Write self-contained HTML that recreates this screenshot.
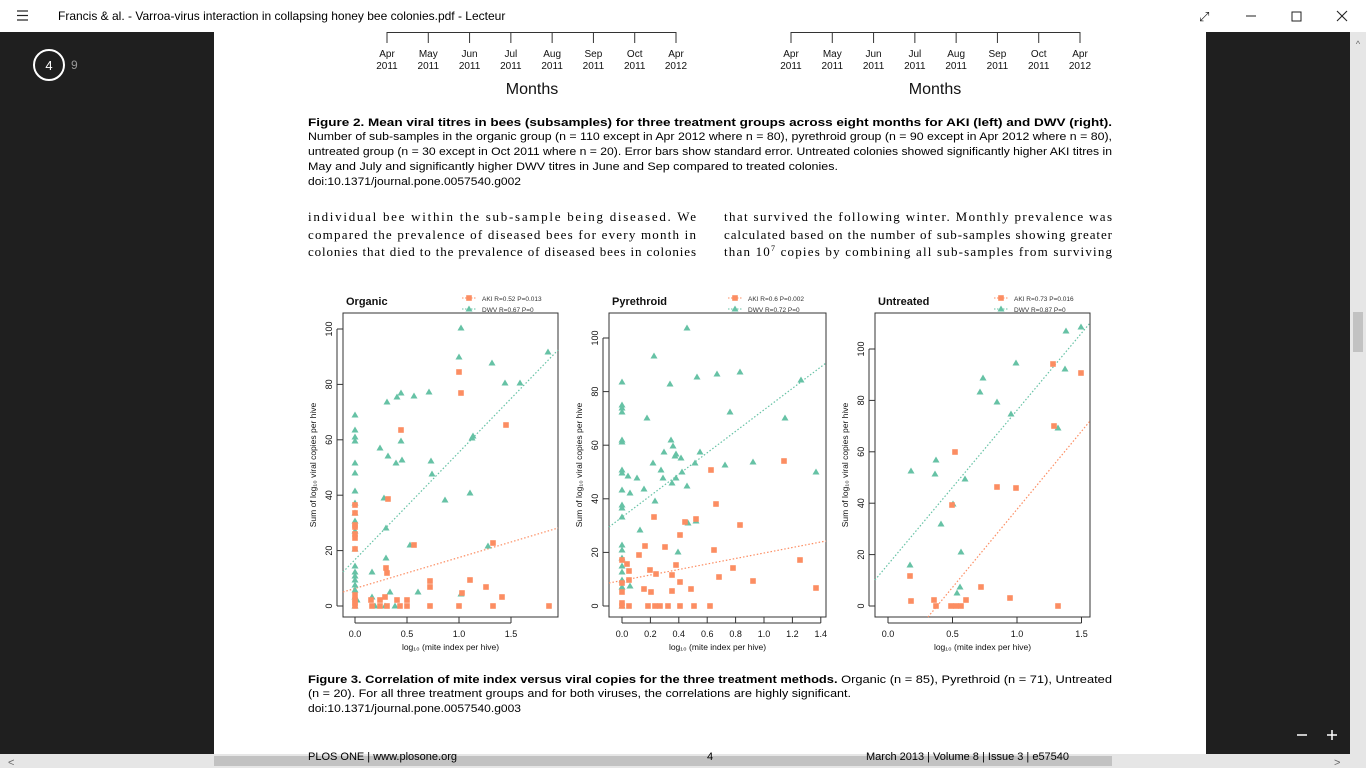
<!DOCTYPE html>
<html><head><meta charset="utf-8"><style>
html,body{margin:0;padding:0;width:1366px;height:768px;overflow:hidden;background:#fff}
svg{display:block}
text{font-family:"Liberation Sans",sans-serif}
.serif{font-family:"Liberation Serif",serif}
</style></head><body>
<svg id="s" width="1366" height="768" viewBox="0 0 1366 768">
<rect x="0" y="0" width="1366" height="32" fill="#fff"/>
<rect x="0" y="32" width="214" height="736" fill="#1f1f1f"/>
<rect x="1206" y="32" width="160" height="736" fill="#1f1f1f"/>
<rect x="214" y="32" width="992" height="722" fill="#fff"/>
<rect x="0" y="754" width="1350" height="14" fill="#e6e6e6"/>
<rect x="214" y="756" width="898" height="10" fill="#c2c2c2"/>
<rect x="1350" y="32" width="16" height="736" fill="#e6e6e6"/>
<rect x="1353" y="312" width="10" height="40" fill="#c2c2c2"/>
<text x="1358" y="47" font-size="9" fill="#666" text-anchor="middle">^</text>
<text x="8" y="766" font-size="11" fill="#666">&lt;</text>
<text x="1334" y="766" font-size="11" fill="#666">&gt;</text>
<!-- title bar -->
<g stroke="#222" stroke-width="1.2"><line x1="17" y1="11" x2="28" y2="11"/><line x1="17" y1="15.5" x2="28" y2="15.5"/><line x1="17" y1="20" x2="28" y2="20"/></g>
<text x="58" y="20" font-size="12" fill="#000">Francis &amp; al. - Varroa-virus interaction in collapsing honey bee colonies.pdf - Lecteur</text>
<text x="1199" y="21" font-size="13" fill="#222">⤢</text>
<line x1="1246" y1="16" x2="1256" y2="16" stroke="#222"/>
<rect x="1292" y="12" width="9" height="9" fill="none" stroke="#222"/>
<g stroke="#222" stroke-width="1.1"><line x1="1337" y1="11" x2="1347" y2="21"/><line x1="1347" y1="11" x2="1337" y2="21"/></g>
<circle cx="49" cy="65" r="15" fill="none" stroke="#fff" stroke-width="2"/>
<text x="49" y="70" font-size="13" fill="#fff" text-anchor="middle">4</text>
<text x="71" y="69" font-size="12" fill="#999">9</text>
<g stroke="#fff" stroke-width="1.5"><line x1="1297" y1="735" x2="1307" y2="735"/><line x1="1327" y1="735" x2="1337" y2="735"/><line x1="1332" y1="730" x2="1332" y2="740"/></g>
<!-- top axes of figure 2 -->
<g id="months"></g>
<text x="532" y="94" font-size="16" fill="#111" text-anchor="middle">Months</text>
<text x="935" y="94" font-size="16" fill="#111" text-anchor="middle">Months</text>
<!-- caption -->
<g font-size="11.3" fill="#000">
<text x="308" y="126" font-weight="bold" textLength="804" lengthAdjust="spacingAndGlyphs">Figure 2. Mean viral titres in bees (subsamples) for three treatment groups across eight months for AKI (left) and DWV (right).</text>
<text x="308" y="140" textLength="804" lengthAdjust="spacingAndGlyphs">Number of sub-samples in the organic group (n = 110 except in Apr 2012 where n = 80), pyrethroid group (n = 90 except in Apr 2012 where n = 80),</text>
<text x="308" y="155" textLength="804" lengthAdjust="spacingAndGlyphs">untreated group (n = 30 except in Oct 2011 where n = 20). Error bars show standard error. Untreated colonies showed significantly higher AKI titres in</text>
<text x="308" y="170" textLength="530" lengthAdjust="spacingAndGlyphs">May and July and significantly higher DWV titres in June and Sep compared to treated colonies.</text>
<text x="308" y="185" textLength="213" lengthAdjust="spacingAndGlyphs">doi:10.1371/journal.pone.0057540.g002</text>
</g>
<g font-size="13" fill="#000" class="serif">
<text class="serif" x="308" y="221" textLength="388" lengthAdjust="spacing">individual bee within the sub-sample being diseased. We</text>
<text class="serif" x="308" y="239" textLength="388" lengthAdjust="spacing">compared the prevalence of diseased bees for every month in</text>
<text class="serif" x="308" y="256" textLength="388" lengthAdjust="spacing">colonies that died to the prevalence of diseased bees in colonies</text>
<text class="serif" x="724" y="221" textLength="388" lengthAdjust="spacing">that survived the following winter. Monthly prevalence was</text>
<text class="serif" x="724" y="239" textLength="388" lengthAdjust="spacing">calculated based on the number of sub-samples showing greater</text>
<text class="serif" x="724" y="256" textLength="388" lengthAdjust="spacing">than 10<tspan dy="-5" font-size="8">7</tspan><tspan dy="5"> copies by combining all sub-samples from surviving</tspan></text>
</g>
<g id="plots"></g>
<g font-size="11.3" fill="#000">
<text x="308" y="683" textLength="804" lengthAdjust="spacingAndGlyphs"><tspan font-weight="bold">Figure 3. Correlation of mite index versus viral copies for the three treatment methods.</tspan> Organic (n = 85), Pyrethroid (n = 71), Untreated</text>
<text x="308" y="697" textLength="543" lengthAdjust="spacingAndGlyphs">(n = 20). For all three treatment groups and for both viruses, the correlations are highly significant.</text>
<text x="308" y="712" textLength="213" lengthAdjust="spacingAndGlyphs">doi:10.1371/journal.pone.0057540.g003</text>
</g>
<text x="308" y="760" font-size="11" fill="#000">PLOS ONE  |  www.plosone.org</text>
<text x="707" y="760" font-size="11" fill="#000">4</text>
<text x="866" y="760" font-size="11" fill="#000">March 2013  |  Volume 8  |  Issue 3  |  e57540</text>
</svg>
<script>
var NS="http://www.w3.org/2000/svg";
function el(p,t,a,txt){var e=document.createElementNS(NS,t);for(var k in a)e.setAttribute(k,a[k]);if(txt!=null)e.textContent=txt;p.appendChild(e);return e;}
var m=document.getElementById("months");
var mn=["Apr","May","Jun","Jul","Aug","Sep","Oct","Apr"],yr=["2011","2011","2011","2011","2011","2011","2011","2012"];
[[387,676],[791,1080]].forEach(function(r){
 el(m,"line",{x1:r[0],y1:32.5,x2:r[1],y2:32.5,stroke:"#333"});
 for(var i=0;i<8;i++){var x=r[0]+i*(r[1]-r[0])/7;
  el(m,"line",{x1:x,y1:32,x2:x,y2:43,stroke:"#333"});
  el(m,"text",{x:x,y:57,"font-size":10,"text-anchor":"middle",fill:"#111"},mn[i]);
  el(m,"text",{x:x,y:69,"font-size":10,"text-anchor":"middle",fill:"#111"},yr[i]);}
});
var P=document.getElementById("plots"),G="#66c2a5",O="#fc8d62";
function tri(x,y){el(P,"polygon",{points:(x)+","+(y-3.5)+" "+(x-3.5)+","+(y+2.5)+" "+(x+3.5)+","+(y+2.5),fill:G});}
function sq(x,y){el(P,"rect",{x:x-2.8,y:y-2.8,width:5.6,height:5.6,fill:O});}
function panel(o){
 el(P,"rect",{x:o.bx,y:313,width:o.bw,height:304,fill:"none",stroke:"#333","stroke-width":1});
 el(P,"text",{x:o.bx+3,y:305,"font-size":11,"font-weight":"bold",fill:"#111"},o.name);
 // legend
 var lx=o.lx;
 el(P,"line",{x1:lx,y1:298,x2:lx+14,y2:298,stroke:O,"stroke-dasharray":"1.5,1.5"});sq(lx+7,298);
 el(P,"line",{x1:lx,y1:309,x2:lx+14,y2:309,stroke:G,"stroke-dasharray":"1.5,1.5"});tri(lx+7,309);
 el(P,"text",{x:lx+20,y:301,"font-size":6.5,fill:"#333"},o.l1);
 el(P,"text",{x:lx+20,y:312,"font-size":6.5,fill:"#333"},o.l2);
 // y ticks
 o.yt.forEach(function(t){var y=606-(606-o.y100)*t/100;
  el(P,"line",{x1:o.bx-6,y1:y,x2:o.bx,y2:y,stroke:"#333"});
  el(P,"text",{x:o.bx-11,y:y,"font-size":9,fill:"#111","text-anchor":"middle",transform:"rotate(-90 "+(o.bx-11)+" "+y+")",dy:0},String(t));});
 el(P,"line",{x1:o.bx-6,y1:606,x2:o.bx-6,y2:606-(606-o.y100)*o.yt[o.yt.length-1]/100,stroke:"#333"});
 var yl=o.bx-27,yc=465;
 el(P,"text",{x:yl,y:yc,"font-size":8.5,fill:"#111","text-anchor":"middle",transform:"rotate(-90 "+yl+" "+yc+")"},"Sum of log\u2081\u2080 viral copies per hive");
 o.xt.forEach(function(t){var x=o.x0+o.xs*t;
  el(P,"line",{x1:x,y1:617,x2:x,y2:623,stroke:"#333"});
  el(P,"text",{x:x,y:637,"font-size":9,fill:"#111","text-anchor":"middle"},t.toFixed(1));});
 el(P,"line",{x1:o.x0,y1:623,x2:o.x0+o.xs*o.xt[o.xt.length-1],y2:623,stroke:"#333"});
 el(P,"text",{x:o.bx+o.bw/2,y:650,"font-size":8.5,fill:"#111","text-anchor":"middle"},"log\u2081\u2080 (mite index per hive)");
 el(P,"line",{x1:o.gl[0],y1:o.gl[1],x2:o.gl[2],y2:o.gl[3],stroke:G,"stroke-dasharray":"1.5,2","stroke-width":1.2});
 el(P,"line",{x1:o.ol[0],y1:o.ol[1],x2:o.ol[2],y2:o.ol[3],stroke:O,"stroke-dasharray":"1.5,2","stroke-width":1.2});
 o.g.forEach(function(p){tri(p[0],p[1]);});
 o.o.forEach(function(p){sq(p[0],p[1]);});
}
function col(x,ys){return ys.map(function(y){return [x,y];});}
panel({name:"Organic",bx:343,bw:215,lx:462,l1:"AKI R=0.52 P=0.013",l2:"DWV R=0.67 P=0",y100:329,yt:[0,20,40,60,80,100],x0:355,xs:104,xt:[0,0.5,1,1.5],
 gl:[343,572,558,350],ol:[343,592,558,528],
 g:col(355,[415,430,437,441,463,473,491,503,513,521,531,549,566,572,576,580,585,590,597,606]).concat([[461,328],[459,357],[492,363],[520,383],[505,383],[548,352],[387,402],[397,397],[401,393],[414,396],[429,392],[401,441],[380,448],[388,456],[402,460],[396,463],[431,461],[432,474],[445,500],[470,493],[472,438],[473,436],[384,498],[488,546],[410,545],[386,528],[386,558],[372,572],[372,597],[390,592],[418,592],[357,600],[461,594],[375,606],[385,606],[395,606]]),
 o:col(355,[505,513,525,527,534,538,549,595,600,603,606]).concat([[459,372],[461,393],[506,425],[401,430],[388,499],[414,545],[493,543],[386,568],[387,573],[470,580],[486,587],[502,597],[430,581],[430,587],[462,593],[371,600],[380,600],[385,597],[397,600],[407,600],[372,606],[407,606],[430,606],[459,606],[493,606],[549,606],[387,606],[380,606],[400,606]])});
panel({name:"Pyrethroid",bx:609,bw:217,lx:728,l1:"AKI R=0.6 P=0.002",l2:"DWV R=0.72 P=0",y100:338,yt:[0,20,40,60,80,100],x0:622,xs:142,xt:[0,0.2,0.4,0.6,0.8,1,1.2,1.4],
 gl:[609,527,826,363],ol:[609,583,826,541],
 g:col(622,[382,405,408,412,440,442,470,473,490,505,508,517,545,550,558,566,572,580,587,606]).concat([[687,328],[654,356],[697,377],[717,374],[740,372],[801,380],[670,384],[647,418],[730,412],[785,418],[816,472],[695,463],[653,463],[664,452],[675,456],[681,458],[661,470],[700,452],[663,478],[672,483],[687,486],[637,478],[688,523],[655,501],[628,476],[630,493],[671,440],[673,446],[676,454],[644,489],[696,521],[753,462],[725,465],[676,478],[682,472],[630,586],[678,552],[640,530]]),
 o:[[784,461],[800,560],[816,588],[716,504],[740,525],[711,470],[654,517],[696,519],[685,522],[680,535],[665,547],[645,546],[639,555],[650,570],[656,574],[676,565],[672,575],[680,582],[691,589],[719,577],[733,568],[753,581],[714,550],[629,571],[629,580],[644,589],[651,592],[648,606],[655,606],[660,606],[668,606],[680,606],[694,606],[710,606],[672,591],[622,592],[622,603],[622,606],[629,606],[622,583],[622,560],[627,564]]});
panel({name:"Untreated",bx:875,bw:215,lx:994,l1:"AKI R=0.73 P=0.016",l2:"DWV R=0.87 P=0",y100:349,yt:[0,20,40,60,80,100],x0:888,xs:129,xt:[0,0.5,1,1.5],
 gl:[875,580,1090,323],ol:[928,617,1090,421],
 g:[[911,471],[935,474],[936,460],[910,565],[941,524],[953,504],[965,479],[980,392],[983,378],[997,402],[1011,414],[1016,363],[1066,331],[1081,327],[1065,369],[1058,428],[961,552],[960,587],[957,593]],
 o:[[1053,364],[1081,373],[1054,426],[1016,488],[997,487],[955,452],[952,505],[910,576],[911,601],[934,600],[951,606],[956,606],[961,606],[966,600],[1010,598],[1058,606],[981,587],[936,606]]});
</script>
</body></html>
